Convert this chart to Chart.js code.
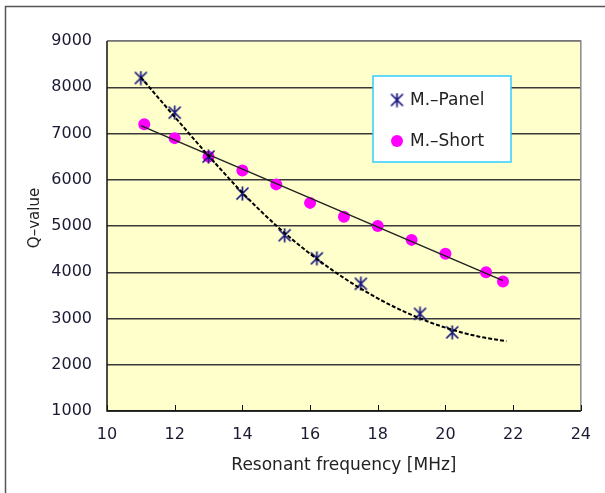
<!DOCTYPE html>
<html>
<head>
<meta charset="utf-8">
<script src="https://cdn.jsdelivr.net/npm/chart.js@4"></script>
<style>
  html, body { margin: 0; padding: 0; background: #fff; }
  #wrap { position: relative; width: 605px; height: 493px; }
</style>
</head>
<body>
<div id="wrap"><canvas id="qChart" width="605" height="493"></canvas></div>
<script>
// measured points
const panelFreq = [11, 12, 13, 14, 15.25, 16.2, 17.5, 19.25, 20.2];
const panelQ = [8200, 7450, 6500, 5700, 4800, 4300, 3750, 3100, 2700];
const shortFreq = [11.1, 12, 13, 14, 15, 16, 17, 18, 19, 20, 21.2, 21.7];
const shortQ = [7200, 6900, 6500, 6200, 5900, 5500, 5200, 5000, 4700, 4400, 4000, 3800];

// trend lines
const panelTrendFreq = [11, 12, 13, 14, 15, 16, 17, 18, 19, 20, 21, 21.8];
const panelTrendQ = [8215, 7360, 6520, 5720, 5010, 4400, 3876, 3435, 3078, 2802, 2607, 2510];
const shortTrendFreq = [11, 21.7];
const shortTrendQ = [7170, 3820];

const seriesLabels = ["M.–Panel", "M.–Short"];
const xTitle = "Resonant frequency [MHz]";
const yTitle = "Q–value";

const toPoints = (xs, ys) => xs.map((x, i) => ({ x: x, y: ys[i] }));

// asterisk marker like the spreadsheet "star" (X with vertical bar)
function makeStar(size, color) {
  const c = document.createElement("canvas");
  c.width = size;
  c.height = size;
  const g = c.getContext("2d");
  g.strokeStyle = color;
  g.lineWidth = 1.7;
  const m = 1.5, s = size - 1.5;
  g.beginPath();
  g.moveTo(m, m); g.lineTo(s, s);
  g.moveTo(s, m); g.lineTo(m, s);
  g.moveTo(size / 2, 0.5); g.lineTo(size / 2, size - 0.5);
  g.stroke();
  return c;
}
const starImg = makeStar(15, "#16167e");

const FONT = "'DejaVu Sans', sans-serif";

const framePlugin = {
  id: "frame",
  beforeDraw(chart) {
    const ctx = chart.ctx;
    const a = chart.chartArea;
    ctx.save();
    // outer frame (only left and top visible)
    ctx.strokeStyle = "#555";
    ctx.lineWidth = 1.5;
    ctx.beginPath();
    ctx.moveTo(5.5, chart.height);
    ctx.lineTo(5.5, 6.5);
    ctx.lineTo(chart.width, 6.5);
    ctx.stroke();
    // plot background
    ctx.fillStyle = "#FFFFCC";
    ctx.fillRect(a.left, a.top, a.right - a.left, a.bottom - a.top);
    ctx.restore();
  },
  afterDatasetsDraw(chart) {
    const ctx = chart.ctx;
    const a = chart.chartArea;
    const xs = chart.scales.x;
    ctx.save();
    ctx.strokeStyle = "#8a8a8a";
    ctx.lineWidth = 1.5;
    ctx.beginPath();
    ctx.moveTo(a.left, a.top);
    ctx.lineTo(a.right, a.top);
    ctx.lineTo(a.right, a.bottom);
    ctx.stroke();
    ctx.strokeStyle = "#111";
    ctx.lineWidth = 1.5;
    ctx.beginPath();
    ctx.moveTo(a.left, a.top);
    ctx.lineTo(a.left, a.bottom);
    ctx.lineTo(a.right, a.bottom);
    ctx.stroke();
    // inner tick marks on the x axis
    ctx.lineWidth = 1;
    ctx.beginPath();
    xs.ticks.forEach((t) => {
      const px = Math.round(xs.getPixelForValue(t.value)) + 0.5;
      ctx.moveTo(px, a.bottom);
      ctx.lineTo(px, a.bottom - 6);
    });
    ctx.stroke();

    // legend box
    const lx = 373, ly = 76, lw = 138, lh = 86;
    ctx.fillStyle = "#fff";
    ctx.fillRect(lx, ly, lw, lh);
    ctx.strokeStyle = "#33CCFF";
    ctx.lineWidth = 1.5;
    ctx.strokeRect(lx, ly, lw, lh);
    ctx.drawImage(starImg, lx + 24 - 7.5, ly + 24 - 7.5);
    ctx.fillStyle = "#FF00FF";
    ctx.beginPath();
    ctx.arc(lx + 24, ly + 65, 6, 0, Math.PI * 2);
    ctx.fill();
    ctx.fillStyle = "#222";
    ctx.font = "17px " + FONT;
    ctx.textBaseline = "middle";
    ctx.fillText(seriesLabels[0], lx + 37, ly + 25);
    ctx.fillText(seriesLabels[1], lx + 37, ly + 66);

    // axis titles
    ctx.font = "17px " + FONT;
    ctx.textAlign = "center";
    ctx.fillText(xTitle, (a.left + a.right) / 2, 466);
    ctx.translate(35, 218);
    ctx.rotate(-Math.PI / 2);
    ctx.font = "15px " + FONT;
    ctx.fillText(yTitle, 0, 0);
    ctx.restore();
  },
};

document.addEventListener("DOMContentLoaded", function () {
  const ctx = document.getElementById("qChart").getContext("2d");

  new Chart(ctx, {
    type: "scatter",
    data: {
      datasets: [
        {
          label: "panel trend",
          data: toPoints(panelTrendFreq, panelTrendQ),
          showLine: true,
          borderColor: "#000",
          borderWidth: 2,
          borderDash: [4, 2],
          cubicInterpolationMode: "monotone",
          pointRadius: 0,
          order: 0,
        },
        {
          label: "short trend",
          data: toPoints(shortTrendFreq, shortTrendQ),
          showLine: true,
          borderColor: "#222",
          borderWidth: 1.5,
          pointRadius: 0,
          order: 0,
        },
        {
          label: seriesLabels[0],
          data: toPoints(panelFreq, panelQ),
          pointStyle: starImg,
          pointRadius: 7,
          order: 1,
        },
        {
          label: seriesLabels[1],
          data: toPoints(shortFreq, shortQ),
          pointStyle: "circle",
          pointRadius: 6,
          backgroundColor: "#FF00FF",
          borderColor: "#FF00FF",
          borderWidth: 0,
          order: 1,
        },
      ],
    },
    options: {
      responsive: false,
      animation: false,
      layout: { padding: { top: 41, right: 13, left: 0, bottom: 0 } },
      plugins: {
        legend: { display: false },
        tooltip: { enabled: false },
      },
      scales: {
        x: {
          type: "linear",
          min: 10,
          max: 24,
          ticks: {
            stepSize: 2,
            color: "#1a1a33",
            font: { family: FONT, size: 16 },
            padding: 14,
            callback: (v) => String(v),
          },
          grid: { display: false, drawTicks: false },
          border: { display: false },
          afterFit: (s) => { s.height = 82; },
        },
        y: {
          min: 1000,
          max: 9000,
          ticks: {
            stepSize: 1000,
            color: "#1a1a33",
            font: { family: FONT, size: 16 },
            padding: 15,
            callback: (v) => String(v),
          },
          grid: { color: "#3a3a3a", lineWidth: 1.5, drawTicks: false },
          border: { display: false },
          afterFit: (s) => { s.width = 107; },
        },
      },
    },
    plugins: [framePlugin],
  });
});
</script>
</body>
</html>
